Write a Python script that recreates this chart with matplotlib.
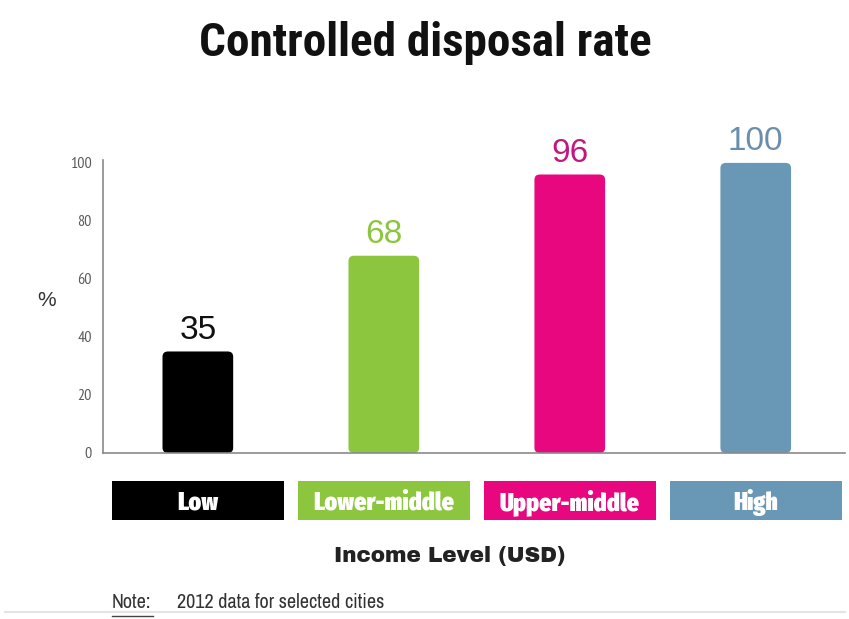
import matplotlib
matplotlib.use("Agg")
import matplotlib.pyplot as plt
import matplotlib.transforms as mtransforms
from matplotlib.patches import FancyBboxPatch, Rectangle
from matplotlib.lines import Line2D

categories = ["Low", "Lower-middle", "Upper-middle", "High"]
rates = [35, 68, 96, 100]
colors = ["#000000", "#8CC63F", "#E8077F", "#6997B6"]
label_colors = ["#111111", "#8CC63F", "#C0187E", "#6A8EAE"]
yticks = [0, 20, 40, 60, 80, 100]

W, H = 849, 619
TITLE_FONT = ["Roboto Condensed", "DejaVu Sans"]
BOX_FONT = ["Fira Sans Extra Condensed", "DejaVu Sans"]
NARROW = ["PT Sans Narrow", "DejaVu Sans"]
NOTE_FONT = ["Archivo Narrow", "DejaVu Sans"]
SANS = ["Liberation Sans", "DejaVu Sans"]


def fx(px):
    return px / W


def fy(py):
    return 1 - py / H


fig = plt.figure(figsize=(W / 100, H / 100), dpi=100)
ax = fig.add_axes([fx(103), fy(453), fx(845) - fx(103), fy(160) - fy(453)])

x = list(range(len(categories)))
bars = ax.bar(x, rates, width=0.38, color=colors)
# swap the plain rectangles for slightly rounded ones
for b, c in zip(bars, colors):
    b.set_visible(False)
    ax.add_patch(FancyBboxPatch((b.get_x(), 0), b.get_width(), b.get_height(),
                                boxstyle="round,pad=0,rounding_size=0.03",
                                mutation_aspect=60, fc=c, ec="none"))

for xi, v, c in zip(x, rates, label_colors):
    ax.annotate(str(v), (xi, v), xytext=(0, 4), textcoords="offset points",
                ha="center", va="bottom", fontsize=24, color=c, family=SANS)

ax.set_xlim(-0.51, 3.48)
ax.set_ylim(0, 101)
ax.set_xticks([])
ax.set_yticks(yticks)
ax.set_yticklabels([str(t) for t in yticks], family=NARROW, fontsize=11.5,
                   color="#5a5a5a")
ax.tick_params(axis="y", length=0, pad=8)
for s in ["top", "right"]:
    ax.spines[s].set_visible(False)
for s in ["left", "bottom"]:
    ax.spines[s].set_color("#8a8a8a")
    ax.spines[s].set_linewidth(1.2)

fig.text(fx(47), fy(300), "%", fontsize=15, ha="center", va="center",
         color="#333333", family=SANS)

fig.text(fx(425), fy(43), "Controlled disposal rate", fontsize=34,
         weight="bold", ha="center", va="center", color="#111111",
         family=TITLE_FONT)

# category boxes centred under each bar
trans = mtransforms.blended_transform_factory(ax.transData, fig.transFigure)
box_w = 0.925
for xi, name, c in zip(x, categories, colors):
    fig.patches.append(Rectangle((xi - box_w / 2, fy(520)), box_w,
                                 fy(481) - fy(520), transform=trans,
                                 fc=c, ec="none"))
    fig.text(xi, fy(503), name, fontsize=18.5, weight=900, transform=trans,
             ha="center", va="center", color="white", family=BOX_FONT)

fig.text(fx(450), fy(556), "Income Level (USD)", fontsize=15.5,
         ha="center", va="center", color="#222222",
         family=["Archivo Black", "DejaVu Sans"])

fig.text(fx(112), fy(603), "Note:", fontsize=14.5, ha="left", va="center",
         color="#333333", family=NOTE_FONT)
fig.text(fx(177), fy(603), "2012 data for selected cities", fontsize=14.5,
         ha="left", va="center", color="#333333", family=NOTE_FONT)
fig.lines.append(Line2D([fx(112), fx(153)], [fy(616), fy(616)],
                        transform=fig.transFigure, color="#444444", lw=1))
fig.lines.append(Line2D([fx(5), fx(845)], [fy(612), fy(612)],
                        transform=fig.transFigure, color="#e4e4e4", lw=1.5))

fig.savefig("out.png", dpi=100)
